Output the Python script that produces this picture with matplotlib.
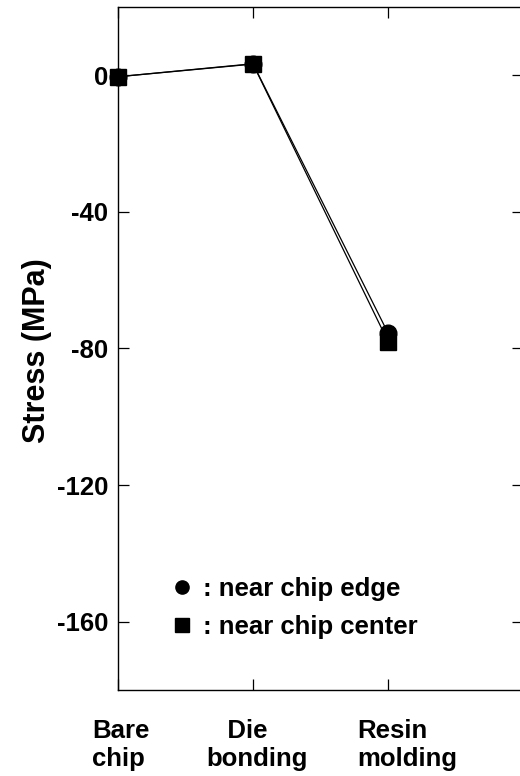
import numpy as np
import matplotlib
matplotlib.use("Agg")
import matplotlib.pyplot as plt
from matplotlib.lines import Line2D

# font: bold helvetica look-alike
plt.rcParams['font.family'] = ['Liberation Sans', 'DejaVu Sans']
plt.rcParams['font.weight'] = 'bold'

# data
stages = ["Bare\nchip", "   Die\nbonding", "Resin\nmolding"]
stress_edge = [-0.5, 3.3, -75.5]    # near chip edge (circles)
stress_center = [-0.5, 3.2, -78.0]  # near chip center (squares)
yticks = [0, -40, -80, -120, -160]

# label x-offsets (in stage units), they are not centred in the original
label_shift = [0.02, 0.03, 0.14]

fig = plt.figure(figsize=(5.2, 7.76), dpi=100)
ax = fig.add_axes([0.2269, 0.1108, 0.7789, 0.8806])

x = np.arange(len(stages))
ax.plot(x, stress_edge, color='k', lw=0.9, marker='o', ms=12,
        markerfacecolor='k', markeredgecolor='k', clip_on=False, zorder=3)
ax.plot(x, stress_center, color='k', lw=0.9, marker='s', ms=11.5,
        markerfacecolor='k', markeredgecolor='k', clip_on=False, zorder=4)

ax.set_xlim(0, 3)
ax.set_ylim(-180, 20)
ax.set_xticks([0, 1, 2, 3])
ax.set_xticklabels([])
ax.set_yticks(yticks)
ax.set_yticklabels([str(v) for v in yticks], fontsize=18.5, fontweight='bold')
ax.tick_params(direction='in', length=8, width=0.9, top=True, right=True, pad=7)
for sp in ax.spines.values():
    sp.set_linewidth(1.0)

ax.set_ylabel("Stress (MPa)", fontsize=22, fontweight='bold')
ax.yaxis.set_label_coords(-0.163, 0.497)

# stage names under the axis
for i, name in enumerate(stages):
    ax.text(x[i] + label_shift[i], -0.1112, name,
            transform=ax.get_xaxis_transform(), ha='center', va='baseline',
            multialignment='left', fontsize=18.5, fontweight='bold',
            linespacing=1.2)

handles = [Line2D([], [], ls='none', marker='o', ms=9.5, color='k'),
           Line2D([], [], ls='none', marker='s', ms=9.5, color='k')]
ax.legend(handles, [": near chip edge", ": near chip center"],
          loc='center left', bbox_to_anchor=(0.095, 0.12),
          frameon=False, borderpad=0, handlelength=1.0, handletextpad=0.32,
          labelspacing=0.52, prop={'size': 18.5, 'weight': 'bold'})

fig.savefig("out.png", dpi=100)
